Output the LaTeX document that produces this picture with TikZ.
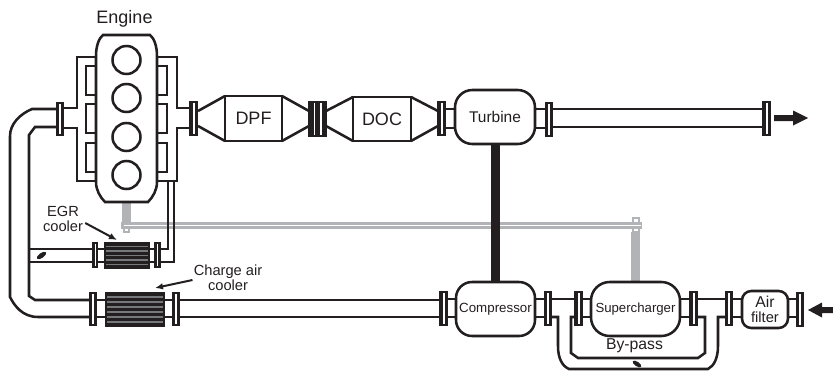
\documentclass[tikz,border=0pt]{standalone}
\usepackage{fontspec}
\setmainfont{Liberation Sans}
\usetikzlibrary{arrows.meta}
\definecolor{ink}{HTML}{231F20}
\definecolor{shaftgrey}{HTML}{B1B3B6}
\definecolor{slitgrey}{HTML}{77787B}
\tikzset{
  pipe/.style={draw=ink,line width=1.9pt,line join=miter},
  lab/.style={text=ink,inner sep=0pt,align=center,font=\fontsize{11pt}{11.3pt}\selectfont},
  thin line/.style={draw=ink,line width=1.5pt}
}
% flange: left x, top y, right x, bottom y
\newcommand{\flg}[4]{%
  \fill[ink] (#1,#2) rectangle (#3,#4);
  \fill[white] ({#1+0.42*(#3-#1)},{#2+2}) rectangle ({#1+0.62*(#3-#1)},{#4-2});
}
% cooler: left x, top y, right x, bottom y, number of slits
\newcommand{\clr}[5]{%
  \fill[ink] (#1,#2) rectangle (#3,#4);
  \foreach \i in {1,...,#5}{
    \draw[slitgrey,line width=0.8pt] (#1+2,{#2+\i*(#4-#2)/(#5+1)}) -- (#3-2,{#2+\i*(#4-#2)/(#5+1)});
  }
}
\newcommand{\rbox}[7]{% name, x1,y1,x2,y2, radius, text
  \path[draw=ink,line width=1.9pt,fill=white,rounded corners=#6]
    (#2,#3) rectangle (#4,#5);
  \node[lab] (#1) at ({(#2+#4)/2},{(#3+#5)/2}) {#7};
}
\begin{document}
\begin{tikzpicture}[x=0.75pt,y=-0.75pt]
\useasboundingbox (0,0) rectangle (833,371);
% grey linkage
\fill[shaftgrey] (122,202) rectangle (131,222);
\fill[shaftgrey] (631,232) rectangle (640,282);
\draw[shaftgrey,line width=1.5pt] (124,222) rectangle (129,232);
\draw[shaftgrey,line width=1.5pt] (633,218) rectangle (638.5,232);
\fill[shaftgrey] (121,222) rectangle (642,229);
\fill[white] (124,224.6) rectangle (641,226.4);
% engine manifolds
\draw[pipe] (96,57) -- (77,57) -- (77,108) -- (64,108);
\draw[pipe] (64,128) -- (77,128) -- (77,181) -- (96,181);
\draw[pipe] (157,57) -- (177,57) -- (177,108) -- (190,108);
\draw[pipe] (190,128) -- (177,128) -- (177,181) -- (157,181);
\draw[thin line] (168,181) -- (168,249) -- (160,249);
\draw[thin line] (174,181) -- (174,262) -- (160,262);
\foreach \a/\b in {66/95,104/133,143/172}{
  \draw[pipe] (96,\a) -- (86,\a) -- (86,\b) -- (96,\b);
  \draw[pipe] (157,\a) -- (167,\a) -- (167,\b) -- (157,\b);
}
% engine body
\draw[pipe,fill=white] (103,35) -- (150,35)
  .. controls (154,38) and (157,46) .. (157,56) -- (157,182)
  .. controls (157,190) and (153,197) .. (148,202) -- (105,202)
  .. controls (100,197) and (96,190) .. (96,182) -- (96,56)
  .. controls (96,46) and (99,38) .. (103,35) -- cycle;
\foreach \cy in {60,98,137,175}{ \draw[pipe] (126.5,\cy) circle (14); }
\node[lab,font=\fontsize{13.5pt}{15pt}\selectfont] (engine) at (124.5,19) {Engine};
% large intake pipe
\draw[pipe] (56,109) -- (32,109) .. controls (20,114) and (10,124) .. (10,136) -- (10,297)
  .. controls (14,305) and (22,317) .. (38,317) -- (90,317);
\draw[pipe] (56,127) -- (35,127) -- (29,135) -- (29,296) -- (35,300) -- (90,300);
% EGR pipe
\draw[pipe] (29,249) -- (92,249);
\draw[pipe] (29,262) -- (92,262);
\draw[pipe] (98,249) -- (104,249) (98,262) -- (104,262);
\draw[pipe] (150,249) -- (155,249) (150,262) -- (155,262);
\fill[ink,rotate around={35:(41.5,255.5)}] (41.5,255.5) ellipse (5.5 and 2.5);
\clr{104}{242}{150}{269}{5}
\flg{92}{242}{98}{268}
\flg{154}{242}{161}{268}
\flg{56}{102}{64}{136}
% charge air
\draw[pipe] (97,300) -- (105,300) (97,317) -- (105,317);
\draw[pipe] (165,300) -- (173,300) (165,317) -- (173,317);
\clr{105}{292}{165}{327}{6}
\flg{89}{292}{97}{326}
\flg{172}{292}{180}{326}
\draw[pipe] (180,300) -- (440,300) (180,317) -- (440,317);
% upper line
\draw[pipe] (198,111) -- (225,96) (198,126) -- (225,141);
\draw[pipe] (282,96) -- (309,111) (282,141) -- (309,126);
\draw[pipe] (326,111) -- (353,97) (326,126) -- (353,141);
\draw[pipe] (411,97) -- (438,111) (411,141) -- (438,126);
\draw[pipe] (446,109) -- (456,109) (446,128) -- (456,128);
\draw[pipe] (534,109) -- (545,109) (534,128) -- (545,128);
\rbox{dpf}{225}{96}{282}{141}{0pt}{\fontsize{13.5pt}{15pt}\selectfont DPF}
\rbox{doc}{353}{97}{411}{141}{0pt}{\fontsize{13.5pt}{15pt}\selectfont DOC}
\flg{189}{101}{198}{136}
\fill[ink] (308,101) rectangle (327,137);
\fill[white] (313.5,103) rectangle (315,135);
\fill[white] (320,103) rectangle (321.5,135);
\flg{437}{101}{446}{136}
\fill[ink] (491,144) rectangle (500,282);
\rbox{turbine}{455}{90}{535}{144}{13pt}{\fontsize{11.6pt}{13pt}\selectfont Turbine}
\flg{545}{102}{553}{137}
\draw[pipe] (553,109) -- (762,109) (553,127) -- (762,127);
\flg{762}{101}{771}{136}
\fill[ink] (774,115) -- (793,115) -- (793,110.5) -- (808,118) -- (793,125.5) -- (793,121) -- (774,121) -- cycle;
% lower line
\draw[pipe] (448,299) -- (457,299) (448,317) -- (457,317);
\draw[pipe] (534,299) -- (545,299) (534,317) -- (545,317);
\draw[pipe] (552,299) -- (575,299);
\draw[pipe] (552,317) -- (558,317) -- (558,346) .. controls (558,358) and (562,366) .. (569,369) -- (708,369)
  .. controls (714,366) and (718,358) .. (718,346) -- (718,317) -- (726,317);
\draw[pipe] (575,317) -- (571,317) -- (571,353) -- (578,358) -- (698,358) -- (705,353) -- (705,317) -- (697,317);
\draw[pipe] (698,299) -- (726,299);
\draw[pipe] (583,299) -- (592,299) (583,317) -- (592,317);
\draw[pipe] (680,299) -- (690,299) (680,317) -- (690,317);
\draw[pipe] (733,299) -- (743,299) (733,317) -- (743,317);
\draw[pipe] (787,299) -- (797,299) (787,317) -- (797,317);
\rbox{compressor}{456}{282}{535}{336}{12pt}{\fontsize{10pt}{11pt}\selectfont Compressor}
\rbox{supercharger}{591}{282}{680}{336}{14pt}{\fontsize{9.9pt}{11pt}\selectfont Supercharger}
\rbox{airfilter}{742}{291}{788}{328}{7pt}{\fontsize{11.8pt}{11.3pt}\selectfont Air\\filter}
\flg{439}{291}{448}{326}
\flg{544}{291}{552}{326}
\flg{574}{291}{583}{326}
\flg{689}{291}{698}{326}
\flg{725}{291}{733}{326}
\flg{796}{292}{804}{327}
\fill[ink] (833,307) -- (822,307) -- (822,302.5) -- (808,310) -- (822,317.5) -- (822,313) -- (833,313) -- cycle;
\fill[ink,rotate around={-35:(637,364)}] (637,364) ellipse (5 and 2.2);
\node[lab,font=\fontsize{11.8pt}{13pt}\selectfont] (bypass) at (634.5,346) {By-pass};
% labels and pointers
\node[lab] (egr) at (63,219) {EGR\\cooler};
\node[lab] (cac) at (228,278) {Charge air\\cooler};
\coordinate (egrtip) at (117,240);
\coordinate (cactip) at (155,288);
\draw[thin line,-{Latex[length=6pt,width=5pt]}] (egr.east)+(2,4) -- (egrtip);
\draw[thin line,-{Latex[length=6pt,width=5pt]}] (cac.west)+(-1,2) -- (cactip);
\end{tikzpicture}
\end{document}
